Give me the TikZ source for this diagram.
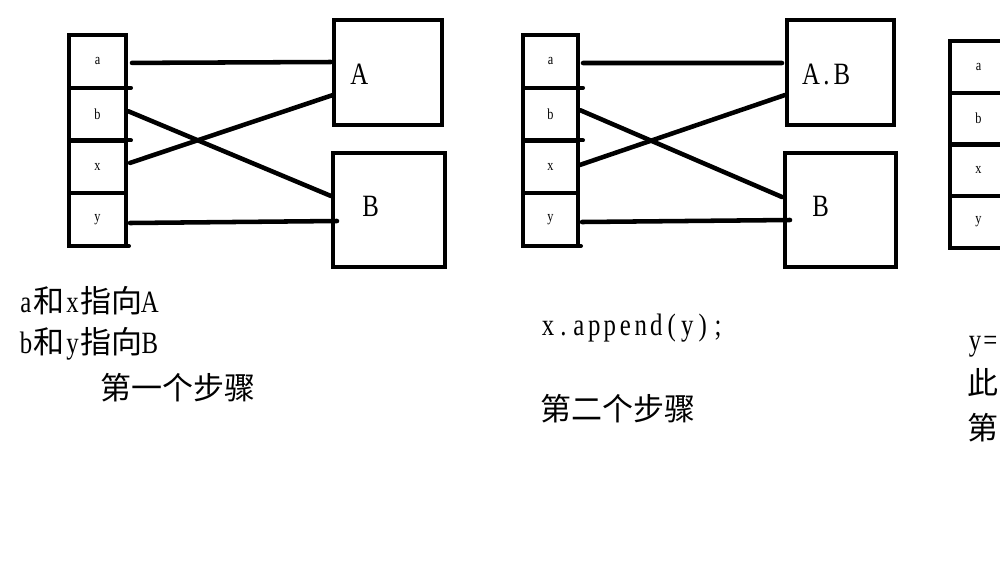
\documentclass[tikz,border=0pt]{standalone}
\usepackage{fontspec}
\setmainfont{Liberation Serif}[FakeStretch=0.8]
\newfontfamily\cjk{Noto Sans CJK SC}
\usetikzlibrary{calc}
% half-width cells for Latin characters (monospaced look)
\def\halfw#1{\halfwi#1\relax}
\def\halfwi#1{\ifx#1\relax\else\makebox[11.6pt]{#1}\expandafter\halfwi\fi}
\begin{document}
\begin{tikzpicture}[x=0.75pt,y=-0.75pt,
  cell/.style={draw, line width=3pt, inner sep=0pt, outer sep=0pt,
    minimum height=39.56pt, font=\fontsize{11.5}{12}\selectfont},
  boxnode/.style={draw, line width=3pt, inner sep=0pt, outer sep=0pt},
  conn/.style={line width=3.4pt, line cap=round},
  stub/.style={line width=3pt, line cap=round},
  big/.style={font=\fontsize{23.25}{28}\selectfont, inner sep=0pt, anchor=base west}]
\useasboundingbox (0,0) rectangle (1000,572);
\clip (0,0) rectangle (1000,572);
\fill[white] (0,0) rectangle (1000,572);

% ---------- panel 1 ----------
\node[cell, minimum width=42.75pt] (a1) at (97.5,61.4) {a};
\node[cell, minimum width=42.75pt] (b1) at (97.5,114.1) {b};
\node[cell, minimum width=42.75pt] (x1) at (97.5,166.9) {x};
\node[cell, minimum width=42.75pt] (y1) at (97.5,219.6) {y};
\draw[stub] (a1.south east) -- ++(5,0);
\draw[stub] (b1.south east) -- ++(5,0);
\draw[stub] (y1.south east) -- ++(3,0);

\node[boxnode, minimum width=81pt, minimum height=78.75pt] (A) at (388,72.5) {};
\node[boxnode, minimum width=84pt, minimum height=85.5pt] (B) at (389,210) {};
\node[big] (Alab) at (350,84) {A};
\node[big] (Blab) at (362,216) {B};

\draw[conn] ($(a1.east)+(6,1.5)$) -- ($(A.west)+(-3,-10.5)$);
\draw[conn] ($(b1.east)+(2,-3)$) -- ($(B.west)+(-2,-14)$);
\draw[conn] ($(x1.east)+(4,-4)$) -- ($(A.west)+(-1,22.5)$);
\draw[conn] ($(y1.east)+(4,3.4)$) -- ($(B.west)+(4,11)$);

\node[big] (t1) at (18,312) {\halfw{a}{\cjk 和}\halfw{x}{\cjk 指向}\halfw{A}};
\node[big] (t2) at (18,353) {\halfw{b}{\cjk 和}\halfw{y}{\cjk 指向}\halfw{B}};
\node[big] (t3) at (100,399) {\cjk 第一个步骤};

% ---------- panel 2 ----------
\node[cell, minimum width=41.25pt] (a2) at (550.5,61.4) {a};
\node[cell, minimum width=41.25pt] (b2) at (550.5,114.1) {b};
\node[cell, minimum width=41.25pt] (x2) at (550.5,166.9) {x};
\node[cell, minimum width=41.25pt] (y2) at (550.5,219.6) {y};
\draw[stub] (a2.south east) -- ++(5,0);
\draw[stub] (b2.south east) -- ++(5,0);
\draw[stub] (y2.south east) -- ++(3,0);

\node[boxnode, minimum width=80.25pt, minimum height=78.75pt] (AB) at (840.5,72.5) {};
\node[boxnode, minimum width=83.25pt, minimum height=85.5pt] (B2) at (840.5,210) {};
\node[big] (ABlab) at (803,84) {\halfw{A.B}};
\node[big] (B2lab) at (812,216) {B};

\draw[conn] ($(a2.east)+(5,1.6)$) -- ($(AB.west)+(-5,-9.5)$);
\draw[conn] ($(b2.east)+(2,-4)$) -- ($(B2.west)+(-3,-13)$);
\draw[conn] ($(x2.east)+(2,-2)$) -- ($(AB.west)+(-2,22.5)$);
\draw[conn] ($(y2.east)+(4,2.4)$) -- ($(B2.west)+(5,10)$);

\node[big] (t4) at (540,335) {\halfw{x.append(y);}};
\node[big] (t5) at (540,420) {\cjk 第二个步骤};

% ---------- panel 3 (cut off at the right edge) ----------
\node[cell, minimum width=42.75pt, minimum height=38.81pt] (a3) at (978.5,66.9) {a};
\node[cell, minimum width=42.75pt, minimum height=38.81pt] (b3) at (978.5,118.6) {b};
\node[cell, minimum width=42.75pt, minimum height=38.81pt] (x3) at (978.5,170.4) {x};
\node[cell, minimum width=42.75pt, minimum height=38.81pt] (y3) at (978.5,222.1) {y};

\node[big] (t6) at (967,350) {\halfw{y=}};
\node[big] (t7) at (967,394) {\cjk 此};
\node[big] (t8) at (967,439) {\cjk 第};
\end{tikzpicture}
\end{document}
